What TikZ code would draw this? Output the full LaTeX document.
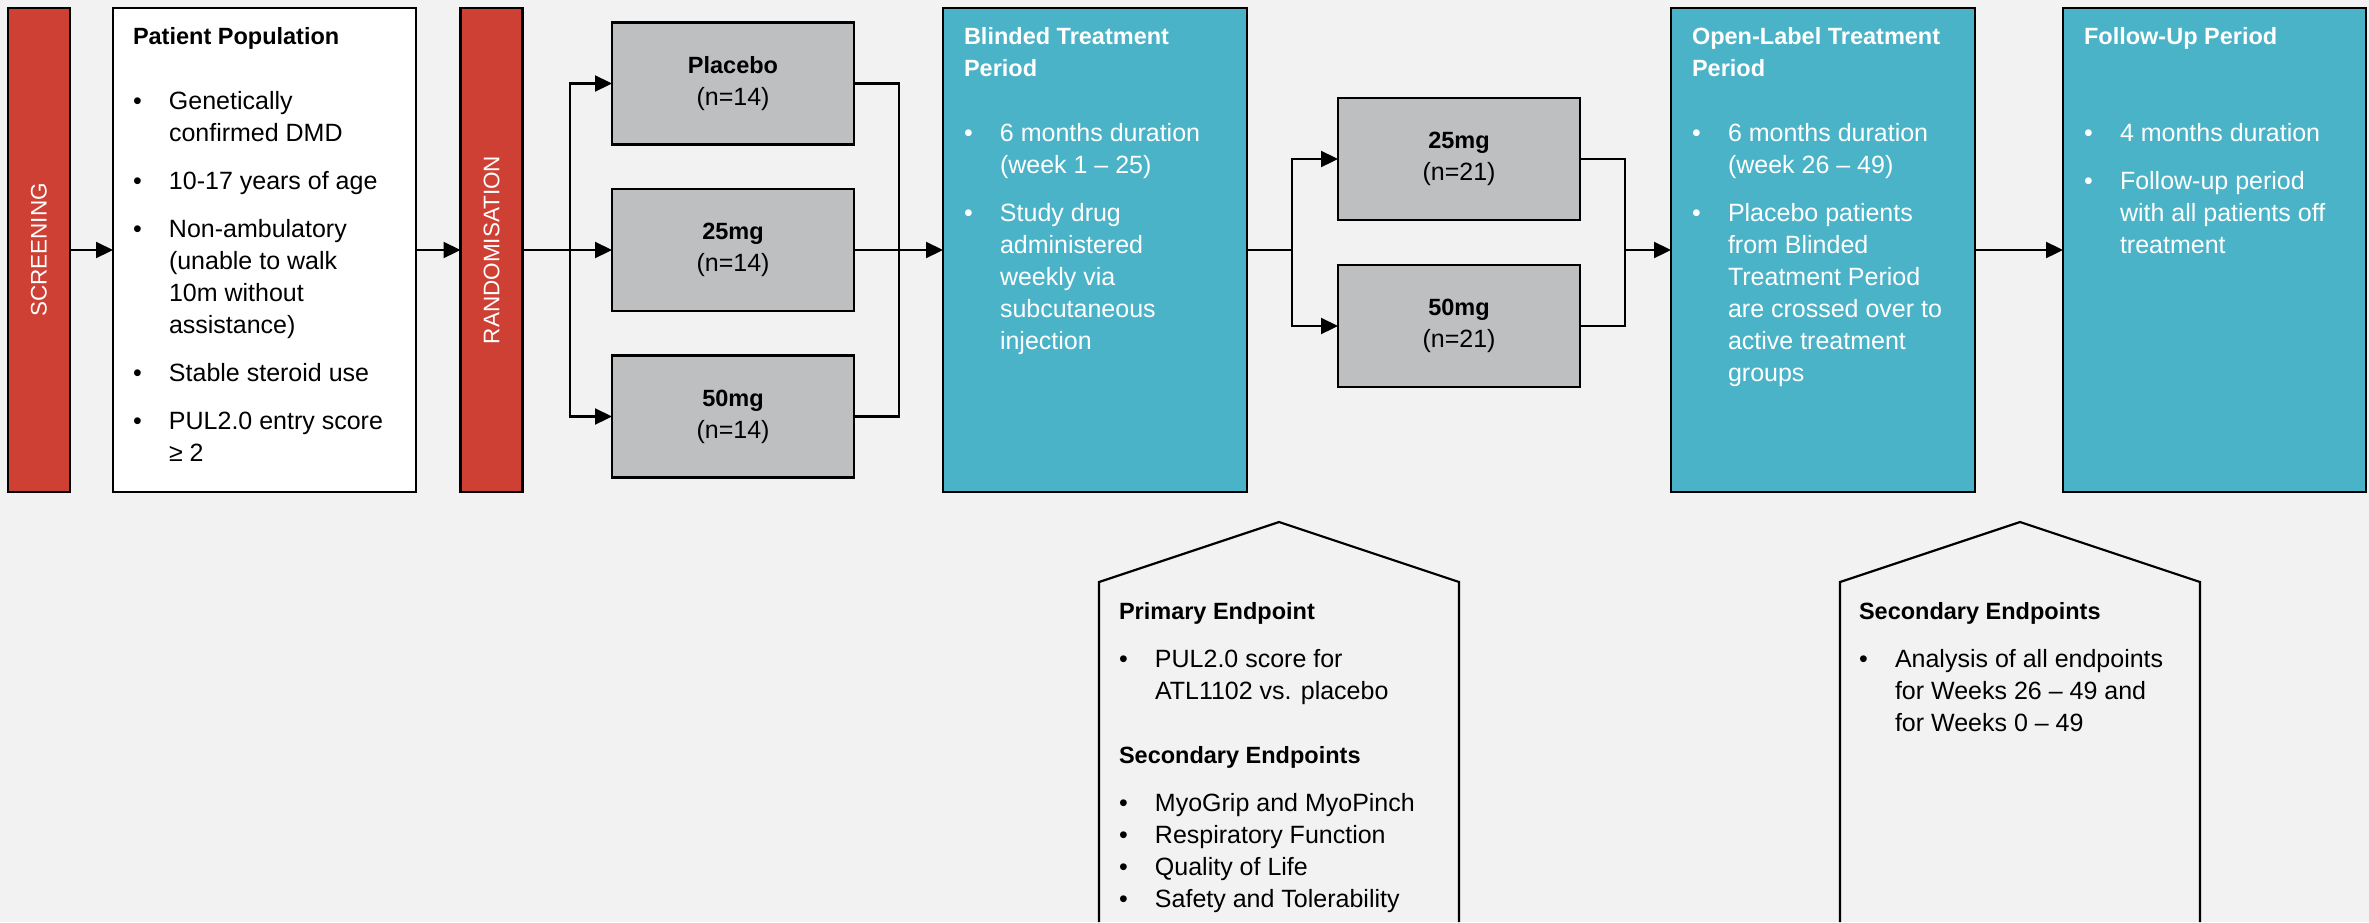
\documentclass[tikz,border=0pt]{standalone}
\usepackage{fontspec}
\setmainfont{Liberation Sans}
\usepackage{graphicx}
\usetikzlibrary{arrows.meta}

\definecolor{bgc}{HTML}{F2F2F2}
\definecolor{redbox}{HTML}{CF4034}
\definecolor{tealbox}{HTML}{4AB3C7}
\definecolor{graybox}{HTML}{BEBFC1}

\newcommand{\bitem}{\makebox[18pt][l]{•}}
\newcommand{\bindent}{\hspace*{18pt}}
\newcommand{\hdr}[1]{{\fontsize{11.75}{16}\selectfont\bfseries #1}}

\begin{document}
\begin{tikzpicture}[x=0.5pt, y=-0.5pt,
  every node/.style={inner sep=0pt, outer sep=0pt, font=\fontsize{12.5}{16}\selectfont},
  stage/.style={draw, line width=1.2pt, minimum height=242pt},
  redbar/.style={stage, fill=redbox, minimum width=31pt, text=white, font=\fontsize{11.25}{13}\selectfont},
  arm/.style={draw, line width=1.2pt, fill=graybox, minimum width=121pt, minimum height=61pt, align=center},
  period/.style={stage, fill=tealbox, minimum width=152pt},
  txt/.style={anchor=north west, align=left},
  arr/.style={-{Triangle[length=8.5pt,width=8pt]}},
  conn/.style={line width=1.1pt},
  house/.style={line width=1.1pt}]

  \fill[bgc] (0,0) rectangle (2369,922);
  \useasboundingbox (0,0) rectangle (2369,922);

  % main stages
  \node[redbar] (screen) at (39,250) {\rotatebox{90}{SCREENING}};
  \node[stage, fill=white, minimum width=151.5pt] (patient) at (264.5,250) {};
  \node[redbar] (random) at (491.5,250) {\rotatebox{90}{RANDOMISATION}};
  \node[period] (blinded) at (1095,250) {};
  \node[period] (openlabel) at (1823,250) {};
  \node[period, minimum width=151.5pt] (followup) at (2214.5,250) {};

  % treatment arms
  \node[arm] (placebo) at (733,83.5) {\hdr{Placebo}\\(n=14)};
  \node[arm] (dose25) at (733,250) {\hdr{25mg}\\(n=14)};
  \node[arm] (dose50) at (733,416.5) {\hdr{50mg}\\(n=14)};
  \node[arm] (ol25) at (1459,159) {\hdr{25mg}\\(n=21)};
  \node[arm] (ol50) at (1459,326) {\hdr{50mg}\\(n=21)};

  % box texts
  \node[txt] (poptext) at (133,27) {\hdr{Patient Population}\\[16.5pt]
    \bitem Genetically\\ \bindent confirmed DMD\\[8pt]
    \bitem 10-17 years of age\\[8pt]
    \bitem Non-ambulatory\\ \bindent (unable to walk\\ \bindent 10m without\\ \bindent assistance)\\[8pt]
    \bitem Stable steroid use\\[8pt]
    \bitem PUL2.0 entry score\\ \bindent ≥ 2};
  \node[txt, text=white] (blindtext) at (964,27) {\hdr{Blinded Treatment}\\ \hdr{Period}\\[16.5pt]
    \bitem 6 months duration\\ \bindent (week 1 – 25)\\[8pt]
    \bitem Study drug\\ \bindent administered\\ \bindent weekly via\\ \bindent subcutaneous\\ \bindent injection};
  \node[txt, text=white] (opentext) at (1692,27) {\hdr{Open-Label Treatment}\\ \hdr{Period}\\[16.5pt]
    \bitem 6 months duration\\ \bindent (week 26 – 49)\\[8pt]
    \bitem Placebo patients\\ \bindent from Blinded\\ \bindent Treatment Period\\ \bindent are crossed over to\\ \bindent active treatment\\ \bindent groups};
  \node[txt, text=white] (followtext) at (2084,27) {\hdr{Follow-Up Period}\\[32.5pt]
    \bitem 4 months duration\\[8pt]
    \bitem Follow-up period\\ \bindent with all patients off\\ \bindent treatment};

  % connectors
  \coordinate (split1) at (570,250);
  \coordinate (merge1) at (899,250);
  \coordinate (split2) at (1292,250);
  \coordinate (merge2) at (1625,250);

  \draw[conn, arr] (screen) -- (patient);
  \draw[conn, arr] (patient) -- (random);
  \draw[conn] (random) -- (split1);
  \draw[conn, arr] (split1) |- (placebo);
  \draw[conn, arr] (split1) |- (dose25);
  \draw[conn, arr] (split1) |- (dose50);
  \draw[conn] (placebo) -| (merge1);
  \draw[conn] (dose25) -| (merge1);
  \draw[conn] (dose50) -| (merge1);
  \draw[conn, arr] (merge1) -- (blinded);
  \draw[conn] (blinded) -- (split2);
  \draw[conn, arr] (split2) |- (ol25);
  \draw[conn, arr] (split2) |- (ol50);
  \draw[conn] (ol25) -| (merge2);
  \draw[conn] (ol50) -| (merge2);
  \draw[conn, arr] (merge2) -- (openlabel);
  \draw[conn, arr] (openlabel) -- (followup);

  % endpoint panels
  \draw[house] (1099,922) -- (1099,582) -- (1279,522) -- (1459,582) -- (1459,922);
  \draw[house] (1840,922) -- (1840,582) -- (2020,522) -- (2200,582) -- (2200,922);

  \node[txt] (primtext) at (1119,602) {\hdr{Primary Endpoint}\\[8pt]
    \bitem PUL2.0 score for\\ \bindent ATL1102 vs. placebo\\[16pt]
    \hdr{Secondary Endpoints}\\[8pt]
    \bitem MyoGrip and MyoPinch\\
    \bitem Respiratory Function\\
    \bitem Quality of Life\\
    \bitem Safety and Tolerability};
  \node[txt] (sectext) at (1859,602) {\hdr{Secondary Endpoints}\\[8pt]
    \bitem Analysis of all endpoints\\ \bindent for Weeks 26 – 49 and\\ \bindent for Weeks 0 – 49};
\end{tikzpicture}
\end{document}
